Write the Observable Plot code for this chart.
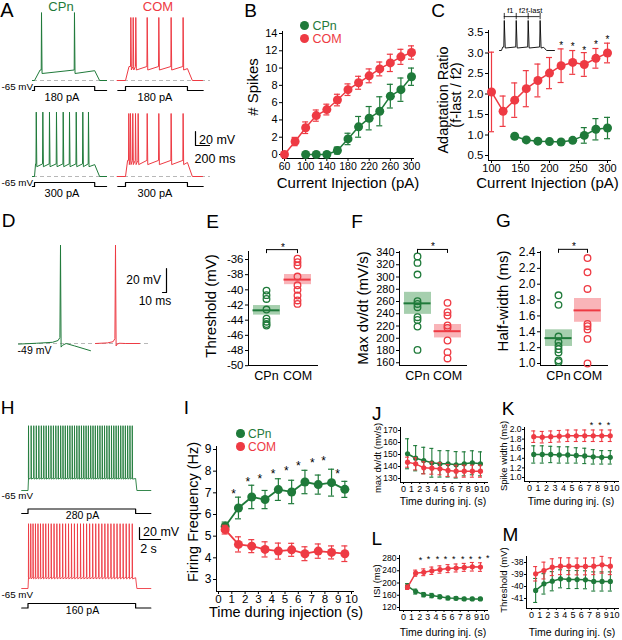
<!DOCTYPE html>
<html><head><meta charset="utf-8">
<script src="https://cdn.jsdelivr.net/npm/d3@7"></script>
<script src="https://cdn.jsdelivr.net/npm/@observablehq/plot@0.6"></script>
<style>
html,body{margin:0;padding:0;background:#fff;}
#fig{position:relative;width:622px;height:640px;overflow:hidden;background:#fff;}
</style></head><body><div id="fig"></div>
<script>
// ===================== DATA =====================
const groups = ["CPn", "COM"];
// Panel A: spike times (ms from step onset) and voltage levels (mV)
const aCPn180 = {spikes: [100, 571], peak: 32, thr: -50, ahp: -55, hold: -51};
const aCOM180 = {spikes: [76, 110, 147, 310, 476, 652, 823], peak: 25, thr: -45, ahp: -50, hold: -48};
const aCPn300 = {spikes: [25, 119, 214, 314, 410, 500, 596, 690, 771], peak: 27, thr: -47, ahp: -51, hold: -48};
const aCOM300 = {spikes: [47, 71, 104, 143, 181, 310, 476, 652, 823], peak: 25, thr: -42, ahp: -48, hold: -45};
const aCurrents = [180, 300];
// Panel B
const bCurrentCOM = [60, 80, 100, 120, 140, 160, 180, 200, 220, 240, 260, 280, 300];
const bSpikesCOM  = [0, 1.5, 3.1, 4.5, 5.2, 6.3, 7.5, 8.3, 9.1, 9.9, 10.6, 11.3, 11.8];
const bErrCOM     = [0, 0.48, 0.67, 0.65, 0.62, 0.67, 0.67, 0.75, 0.8, 0.8, 1.0, 0.87, 0.77];
const bCurrentCPn = [100, 120, 140, 160, 180, 200, 220, 240, 260, 280, 300];
const bSpikesCPn  = [0, 0, 0, 0.46, 1.8, 3.2, 4.2, 5.0, 6.75, 7.5, 9.0];
const bErrCPn     = [0, 0, 0, 0.4, 0.66, 1.2, 1.35, 1.68, 1.37, 1.35, 1.0];
const bTicksX = [60, 100, 140, 180, 220, 260, 300];
const bTicksY = [0, 2, 4, 6, 8, 10, 12, 14];
// Panel C
const cCurrentCOM = [100, 120, 140, 160, 180, 200, 220, 240, 260, 280, 300];
const cRatioCOM   = [2.05, 1.58, 1.85, 2.13, 2.33, 2.51, 2.69, 2.77, 2.72, 2.87, 3.0];
const cErrCOM     = [0.97, 0.37, 0.42, 0.44, 0.4, 0.38, 0.41, 0.29, 0.29, 0.24, 0.24];
const cCurrentCPn = [140, 160, 180, 200, 220, 240, 260, 280, 300];
const cRatioCPn   = [0.97, 0.88, 0.85, 0.84, 0.83, 0.87, 0.99, 1.14, 1.17];
const cErrCPn     = [0.02, 0.05, 0.04, 0.03, 0.03, 0.03, 0.19, 0.26, 0.26];
const cStarCurrent = [220, 240, 260, 280, 300];
const cStarRatio   = [3.25, 3.21, 3.13, 3.27, 3.39];
const cTicksX = [100, 150, 200, 250, 300];
const cTicksY = [0.5, 1.0, 1.5, 2.0, 2.5, 3.0, 3.5];
const cInset = {spikes: [20, 70, 120, 170], peak: 20, thr: -55, ahp: -58, hold: -56};
const cIntervals = ["f1", "f2", "f-last"];
// Panel D: single spike waveforms (ms, mV)
const dGreenT = [-105, -60, -20, -6, -1.5, 0, 1.5, 5, 14, 35, 75];
const dGreenV = [-49.5, -48.8, -48, -46.5, -44, 33, -52, -50.5, -49, -51, -55];
const dRedT = [-50, -20, -6, -1.5, 0, 1.5, 4, 10, 25, 60];
const dRedV = [-49, -48.5, -47.5, -45, 33, -51, -49.5, -48.8, -49, -49];
// Panels E, F, G: individual cells, mean, sem
const eThrCPn = [-40.1, -40.7, -41.2, -42.6, -43.8, -44.2, -44.5, -44.7];
const eThrCOM = [-35.9, -36.35, -36.8, -38.25, -39.4, -40.0, -40.75, -41.4, -41.85];
const eMean = [-42.7, -38.65], eSem = [0.63, 0.67];
const eTicks = [-50, -48, -46, -44, -42, -40, -38, -36];
const fDvdtCPn = [333.5, 323, 304, 260.5, 256, 250.7, 234.4, 230, 219, 181];
const fDvdtCOM = [257.8, 242.6, 237, 220.8, 217, 196.3, 177.3, 167];
const fMean = [257, 211.5], fSem = [18, 11];
const fTicks = [160, 180, 200, 220, 240, 260, 280, 300, 320, 340];
const gHwCPn = [1.86, 1.74, 1.34, 1.27, 1.22, 1.18, 1.14, 1.04, 1.02];
const gHwCOM = [2.33, 2.15, 1.94, 1.5, 1.47, 1.43, 1.31, 1.0];
const gMean = [1.32, 1.67], gSem = [0.105, 0.15];
const gTicks = [1.0, 1.2, 1.4, 1.6, 1.8, 2.0, 2.2, 2.4];
const sigLevel = {E: -34.7, F: 345, G: 2.44};
// Panel H: spike times (s from step onset)
const hSpikesCPn = [0.05,0.30,0.55,0.79,1.03,1.27,1.50,1.73,1.96,2.19,2.42,2.65,2.88,3.11,3.33,3.55,3.77,3.99,4.21,4.43,4.65,4.87,5.09,5.31,5.53,5.75,5.97,6.19,6.41,6.63,6.85,7.07,7.29,7.51,7.73,7.95,8.17,8.39,8.61,8.83,9.05,9.27,9.49,9.71,9.93];
const hSpikesCOM = [0.05,0.26,0.48,0.71,0.95,1.19,1.44,1.69,1.95,2.21,2.48,2.75,3.02,3.30,3.58,3.86,4.14,4.42,4.71,5.00,5.29,5.58,5.87,6.16,6.45,6.74,7.03,7.32,7.61,7.90,8.19,8.48,8.77,9.06,9.35,9.64,9.93];
const hCPn = {peak: 43, thr: -44, ahp: -46, hold: -45};
const hCOM = {peak: 43, thr: -46, ahp: -49, hold: -47};
const hCurrents = [280, 160];
// Panel I
const timeBins = [0.5, 1.5, 2.5, 3.5, 4.5, 5.5, 6.5, 7.5, 8.5, 9.5];
const iFreqCPn = [5.45, 6.3, 6.81, 6.69, 7.15, 7.04, 7.5, 7.38, 7.47, 7.16];
const iErrCPn  = [0.2, 0.5, 0.54, 0.42, 0.5, 0.54, 0.54, 0.44, 0.62, 0.37];
const iFreqCOM = [5.3, 4.62, 4.54, 4.39, 4.31, 4.37, 4.19, 4.31, 4.25, 4.19];
const iErrCOM  = [0.2, 0.35, 0.3, 0.35, 0.37, 0.3, 0.32, 0.33, 0.3, 0.36];
const iStarTime = [1.13, 2.2, 3.1, 4.1, 5.1, 6.0, 7.05, 7.9, 8.95];
const iStarFreq = [7.1, 7.65, 7.8, 8.0, 8.15, 8.4, 8.5, 8.6, 8.0];
const iTicksX = [0, 1, 2, 3, 4, 5, 6, 7, 8, 9, 10];
const iTicksY = [3, 4, 5, 6, 7, 8, 9];
// Panels J-M
const jCPn = [150.6, 146.9, 145, 143.1, 142.2, 142.2, 141.4, 142.2, 143.1, 142.2];
const jErrCPn = [12.5, 10.5, 11, 12, 11, 11, 11, 10, 10, 10];
const jCOM = [143.6, 142.2, 138.9, 138.6, 138.1, 136.7, 136.1, 136.1, 136.1, 136.1];
const jErrCOM = [4.2, 5, 5, 5, 5, 5, 5, 5, 5, 5];
const jTicks = [130, 140, 150, 160, 170];
const kCPn = [1.48, 1.48, 1.48, 1.47, 1.47, 1.46, 1.45, 1.43, 1.42, 1.42];
const kErrCPn = [0.18, 0.18, 0.17, 0.17, 0.17, 0.16, 0.16, 0.15, 0.14, 0.14];
const kCOM = [1.85, 1.84, 1.85, 1.86, 1.87, 1.87, 1.87, 1.87, 1.87, 1.87];
const kErrCOM = [0.12, 0.12, 0.12, 0.12, 0.12, 0.12, 0.12, 0.12, 0.12, 0.12];
const kStarTime = [7.3, 8.3, 9.3], kStarVal = [2.15, 2.15, 2.15];
const kTicks = [1.0, 1.2, 1.4, 1.6, 1.8, 2.0];
const lCPn = [190, 172, 162, 159, 155, 151, 150, 148, 148, 148];
const lErrCPn = [8, 8, 7, 7, 6, 6, 5, 5, 5, 5];
const lCOM = [186, 232, 235, 240, 244, 247, 249, 251, 253, 252];
const lErrCOM = [7, 10, 11, 12, 12, 13, 13, 13, 14, 14];
const lStarTime = [2.1, 3.1, 4.2, 5.2, 6.2, 7.3, 8.3, 9.4, 10.4];
const lStarVal = [284, 286, 286, 286, 286, 286, 286, 287, 288];
const lTicks = [120, 160, 200, 240, 280];
const mCPn = [-40.33, -39.78, -39.56, -39.36, -39.42, -39.42, -39.44, -39.58, -39.58, -39.58];
const mErrCPn = [1.0, 0.85, 0.8, 0.75, 0.75, 0.75, 0.75, 0.8, 0.8, 0.8];
const mCOM = [-38.94, -38.67, -38.39, -38.31, -38.31, -38.33, -38.33, -38.31, -38.19, -38.31];
const mErrCOM = [0.6, 0.7, 0.7, 0.7, 0.7, 0.7, 0.7, 0.7, 0.7, 0.7];
const mTicks = [-41, -40, -39, -38];

// ===================== STYLE / HELPERS =====================
const FONT = "'Liberation Sans', Arial, Helvetica, sans-serif";
const GREEN = "#1f7a3a", RED = "#ee3a43";
const GREEN_LIGHT = "#a6cfae", RED_LIGHT = "#f9b4b8";
const fig = document.getElementById("fig");

function addPlot(frame, opts) {
  const [l, t, r, b] = frame;
  const svg = Plot.plot({
    width: 622, height: 640,
    marginLeft: l, marginTop: t, marginRight: 622 - r, marginBottom: 640 - b,
    style: {position: "absolute", left: "0px", top: "0px", background: "transparent", overflow: "visible", fontFamily: FONT, color: "#000"},
    ...opts,
    marks: opts.marks.filter(Boolean)
  });
  fig.appendChild(svg);
  return svg;
}
function label(s, x, y, o = {}) {
  const d = document.createElement("div");
  d.textContent = s;
  const tx = o.anchor === "start" ? "0%" : o.anchor === "end" ? "-100%" : "-50%";
  d.style.cssText = `position:absolute;left:${x}px;top:${y}px;white-space:nowrap;font-family:${FONT};font-size:${o.size || 12}px;line-height:1;color:${o.color || "#000"};transform:translate(${tx},-50%)${o.rotate ? " rotate(" + o.rotate + "deg)" : ""};`;
  fig.appendChild(d);
}
function legendItem(x, y, color, text, size, r) {
  const dot = document.createElement("div");
  dot.style.cssText = `position:absolute;left:${x - r}px;top:${y - r}px;width:${2 * r}px;height:${2 * r}px;border-radius:50%;background:${color};`;
  fig.appendChild(dot);
  label(text, x + r + 3.5, y, {anchor: "start", size, color});
}
function spikeTrace(p) {
  const pts = [[p.start, p.rest], [p.onset, p.rest], [p.onset + p.rise, p.thr]];
  for (const s of p.spikes) pts.push([s - p.up, p.thr], [s, p.peak], [s + p.down, p.ahp]);
  pts.push([p.offset, p.hold], [p.offset + p.decay, p.rest], [p.end, p.rest]);
  return pts.map(([t, v]) => ({t, v}));
}
function stepPts(start, onset, offset, end, amp) {
  return [{t: start, v: 0}, {t: onset, v: 0}, {t: onset, v: amp}, {t: offset, v: amp}, {t: offset, v: 0}, {t: end, v: 0}];
}
const fmtInt = d => String(d);
const fmt1 = d => d.toFixed(1);
function axes(o) {
  return [
    Plot.frame({anchor: "left", stroke: "#000", strokeWidth: 1}),
    Plot.frame({anchor: "bottom", stroke: "#000", strokeWidth: 1}),
    Plot.axisY({ticks: o.yt, tickFormat: o.yf || fmtInt, tickSize: o.ts ?? 3, tickPadding: o.yp ?? 2, fontSize: o.fy, label: null}),
    o.cat
      ? Plot.axisX({tickSize: 0, tickPadding: 6, fontSize: o.fx, label: null})
      : Plot.axisX({ticks: o.xt, tickFormat: o.xf || fmtInt, tickSize: o.ts ?? 3, tickPadding: o.xp ?? 1, fontSize: o.fx, label: null})
  ];
}
function lineErr(xs, ys, es, color, o) {
  const d = xs.map((x, i) => ({x, y: ys[i], lo: ys[i] - es[i], hi: ys[i] + es[i]}));
  const cap = {x1: "x", x2: "x", insetLeft: -o.cap, insetRight: -o.cap, stroke: color, strokeWidth: o.ew};
  return [
    Plot.ruleX(d, {x: "x", y1: "lo", y2: "hi", stroke: color, strokeWidth: o.ew}),
    Plot.ruleY(d, {...cap, y: "lo"}),
    Plot.ruleY(d, {...cap, y: "hi"}),
    Plot.line(d, {x: "x", y: "y", stroke: color, strokeWidth: o.lw}),
    Plot.dot(d, {x: "x", y: "y", r: o.r, fill: color})
  ];
}
function stars(xs, ys, size) {
  return Plot.text(xs.map((x, i) => ({x, y: ys[i]})), {x: "x", y: "y", text: () => "*", fontSize: size, dy: 0.27 * size, fill: "#000"});
}

// ===================== PANEL A =====================
function aTrace(spec, x0, yRest, start, end, offset, rise, color, withBaseline) {
  const p = {...spec, rest: -65, start, onset: 0, rise, up: 4, down: 8, offset, decay: 70, end};
  addPlot([33, yRest - 75, 210, yRest + 20], {
    x: {domain: [start, end], range: [x0 + start * 0.07, x0 + end * 0.07], axis: null},
    y: {domain: [-65, 40], range: [yRest, yRest - 105 * 0.7], axis: null},
    marks: [
      withBaseline ? Plot.ruleY([-65], {stroke: "#b8b8b8", strokeDasharray: "4,3", strokeWidth: 1.2}) : null,
      Plot.line(spikeTrace(p), {x: "t", y: "v", stroke: color, strokeWidth: 1})
    ]
  });
}
function aStep(amp, x0, yTop, start, end, offset) {
  addPlot([5, yTop - 10, 210, yTop + 10], {
    x: {domain: [start, end], range: [x0 + start * 0.07, x0 + end * 0.07], axis: null},
    y: {domain: [0, amp], range: [yTop + 4, yTop], axis: null},
    marks: [Plot.line(stepPts(start, 0, offset, end, amp), {x: "t", y: "v", stroke: "#000", strokeWidth: 1.2})]
  });
}
aTrace(aCPn180, 34, 80, -30, 1030, 860, 80, GREEN, true);
aTrace(aCOM180, 125, 80, -120, 1100, 885, 50, RED, false);
aTrace(aCPn300, 34, 176, -30, 1030, 860, 15, GREEN, true);
aTrace(aCOM300, 125, 176, -120, 1100, 885, 30, RED, false);
aStep(aCurrents[0], 34, 86, -30, 1030, 860);
aStep(aCurrents[0], 125, 86, -110, 1110, 885);
aStep(aCurrents[1], 34, 182, -30, 1030, 860);
aStep(aCurrents[1], 125, 182, -110, 1110, 885);
addPlot([190, 125, 215, 150], {
  x: {domain: [0, 200], range: [195, 209], axis: null},
  y: {domain: [0, 20], range: [145, 131], axis: null},
  marks: [Plot.line([{t: 0, v: 20}, {t: 0, v: 0}, {t: 200, v: 0}], {x: "t", y: "v", stroke: "#000", strokeWidth: 1.2})]
});

// ===================== PANEL B =====================
addPlot([282, 31, 413, 158], {
  x: {domain: [60, 300], range: [284, 411]},
  y: {domain: [0, 14], range: [154, 33]},
  marks: [
    ...axes({xt: bTicksX, yt: bTicksY, fx: 10.5, fy: 11}),
    ...lineErr(bCurrentCOM, bSpikesCOM, bErrCOM, RED, {r: 4.5, cap: 3, ew: 1.2, lw: 1.5}),
    ...lineErr(bCurrentCPn, bSpikesCPn, bErrCPn, GREEN, {r: 4.5, cap: 3, ew: 1.2, lw: 1.5})
  ]
});

// ===================== PANEL C =====================
addPlot([488, 30, 610, 160], {
  x: {domain: [100, 300], range: [491, 607]},
  y: {domain: [0.5, 3.5], range: [155, 32]},
  marks: [
    ...axes({xt: cTicksX, yt: cTicksY, yf: fmt1, fx: 11, fy: 11.5}),
    ...lineErr(cCurrentCOM, cRatioCOM, cErrCOM, RED, {r: 4.5, cap: 3, ew: 1.2, lw: 1.5}),
    ...lineErr(cCurrentCPn, cRatioCPn, cErrCPn, GREEN, {r: 4.5, cap: 3, ew: 1.2, lw: 1.5}),
    stars(cStarCurrent, cStarRatio, 10)
  ]
});
{
  const p = {...cInset, rest: -65, start: 0, onset: 8, rise: 6, up: 2, down: 4, offset: 185, decay: 12, end: 230};
  const mids = cIntervals.map((s, i) => ({s, t: (cInset.spikes[i] + cInset.spikes[i + 1]) / 2, v: 31}));
  addPlot([499, 5, 554, 55], {
    x: {domain: [0, 230], range: [499, 499 + 230 * 0.239], axis: null},
    y: {domain: [-65, 40], range: [50, 50 - 105 * 0.353], axis: null},
    marks: [
      Plot.line(spikeTrace(p), {x: "t", y: "v", stroke: "#000", strokeWidth: 0.9}),
      Plot.ruleY([{a: cInset.spikes[0], b: cInset.spikes[3], v: 31}], {x1: "a", x2: "b", y: "v", stroke: "#000", strokeWidth: 0.8}),
      Plot.ruleX(cInset.spikes, {x: d => d, y1: 22, y2: 40, stroke: "#000", strokeWidth: 0.8}),
      Plot.text(mids, {x: "t", y: "v", text: "s", dy: -6, fontSize: 7.5, fill: "#000"})
    ]
  });
}

// ===================== PANEL D =====================
addPlot([18, 230, 148, 360], {
  x: {domain: [-105, 75], range: [60 - 105 * 0.4, 60 + 75 * 0.4], axis: null},
  y: {domain: [-60, 40], range: [343 + 11 * 1.2, 343 - 89 * 1.2], axis: null},
  marks: [
    Plot.ruleY([-49], {stroke: "#b8b8b8", strokeDasharray: "4,3", strokeWidth: 1.2}),
    Plot.line(dGreenT.map((t, i) => ({t, v: dGreenV[i]})), {x: "t", y: "v", stroke: GREEN, strokeWidth: 1})
  ]
});
addPlot([18, 230, 148, 360], {
  x: {domain: [-50, 60], range: [115 - 50 * 0.4, 115 + 60 * 0.4], axis: null},
  y: {domain: [-60, 40], range: [343 + 11 * 1.2, 343 - 89 * 1.2], axis: null},
  marks: [Plot.line(dRedT.map((t, i) => ({t, v: dRedV[i]})), {x: "t", y: "v", stroke: RED, strokeWidth: 1})]
});
addPlot([155, 260, 175, 300], {
  x: {domain: [0, 10], range: [162, 166], axis: null},
  y: {domain: [0, 20], range: [292, 268], axis: null},
  marks: [Plot.line([{t: 10, v: 20}, {t: 10, v: 0}, {t: 0, v: 0}], {x: "t", y: "v", stroke: "#000", strokeWidth: 1.2})]
});

// ===================== PANELS E, F, G =====================
function catPanel(frame, yDom, yRange, xRange, ticks, yf, fy, cpn, com, mean, sem, sig) {
  const pts = [...cpn.map(v => ({g: "CPn", v})), ...com.map(v => ({g: "COM", v}))];
  const stats = groups.map((g, i) => ({g, mean: mean[i], lo: mean[i] - sem[i], hi: mean[i] + sem[i]}));
  const marks = [...axes({cat: true, yt: ticks, yf, fx: 12.5, fy, ts: 3, yp: 2})];
  groups.forEach((g, i) => {
    const col = i === 0 ? GREEN : RED, light = i === 0 ? GREEN_LIGHT : RED_LIGHT;
    marks.push(Plot.ruleX(stats.filter(d => d.g === g), {x: "g", y1: "lo", y2: "hi", stroke: light, strokeWidth: 27}));
    marks.push(Plot.dot(pts.filter(d => d.g === g), {x: "g", y: "v", r: 3.3, stroke: col, strokeWidth: 1.3}));
    marks.push(Plot.ruleY(stats.filter(d => d.g === g), {x1: "g", x2: "g", y: "mean", insetLeft: -13.5, insetRight: -13.5, stroke: col, strokeWidth: 2}));
  });
  marks.push(Plot.ruleY([{a: "CPn", b: "COM", y: sig}], {x1: "a", x2: "b", y: "y", stroke: "#000", strokeWidth: 1}));
  marks.push(Plot.ruleX(groups.map(g => ({g, y: sig})), {x: "g", y1: "y", y2: "y", insetBottom: -4, stroke: "#000", strokeWidth: 1}));
  marks.push(Plot.text([{y: sig}], {y: "y", text: () => "*", fontSize: 10, dy: -5 + 2.7, fill: "#000"}));
  addPlot(frame, {
    x: {type: "point", domain: groups, range: xRange, padding: 0},
    y: {domain: yDom, range: yRange},
    marks
  });
}
catPanel([248, 251, 317, 365], [-50, -36], [365.2, 259], [266, 297], eTicks, fmtInt, 11.5, eThrCPn, eThrCOM, eMean, eSem, sigLevel.E);
catPanel([399, 251, 466, 365], [160, 340], [362.25, 252], [417, 447], fTicks, fmtInt, 11, fDvdtCPn, fDvdtCOM, fMean, fSem, sigLevel.F);
catPanel([540, 251, 607, 365], [1.0, 2.4], [363, 252], [558, 587], gTicks, fmt1, 12, gHwCPn, gHwCOM, gMean, gSem, sigLevel.G);

// ===================== PANEL H =====================
function hTrace(spikes, spec, yRest, color) {
  const p = {...spec, spikes, rest: -65, start: -0.6, onset: 0, rise: 0.05, up: 0.012, down: 0.03, offset: 10.25, decay: 0.12, end: 11.7};
  addPlot([21, yRest - 80, 152, yRest + 10], {
    x: {domain: [-0.6, 11.7], range: [27.5 - 0.6 * 10.5, 27.5 + 11.7 * 10.5], axis: null},
    y: {domain: [-65, 45], range: [yRest, yRest - 110 * 0.6], axis: null},
    marks: [Plot.line(spikeTrace(p), {x: "t", y: "v", stroke: color, strokeWidth: 0.9})]
  });
}
function hStep(amp, yTop) {
  addPlot([21, yTop - 10, 152, yTop + 10], {
    x: {domain: [-0.6, 11.7], range: [27.5 - 0.6 * 10.5, 27.5 + 11.7 * 10.5], axis: null},
    y: {domain: [0, amp], range: [yTop + 4.5, yTop], axis: null},
    marks: [Plot.line(stepPts(-0.6, 0, 10.25, 11.7, amp), {x: "t", y: "v", stroke: "#000", strokeWidth: 1.2})]
  });
}
hTrace(hSpikesCPn, hCPn, 490, GREEN);
hTrace(hSpikesCOM, hCOM, 588, RED);
hStep(hCurrents[0], 508.5);
hStep(hCurrents[1], 603);
addPlot([130, 520, 170, 545], {
  x: {domain: [0, 2], range: [139, 160], axis: null},
  y: {domain: [0, 20], range: [539, 527], axis: null},
  marks: [Plot.line([{t: 0, v: 20}, {t: 0, v: 0}, {t: 2, v: 0}], {x: "t", y: "v", stroke: "#000", strokeWidth: 1.2})]
});

// ===================== PANEL I =====================
addPlot([216, 446, 353, 591], {
  x: {domain: [0, 10], range: [218, 351]},
  y: {domain: [3, 9], range: [579, 449]},
  marks: [
    ...axes({xt: iTicksX, yt: iTicksY, fx: 11.5, fy: 12, xp: 0}),
    ...lineErr(timeBins, iFreqCPn, iErrCPn, GREEN, {r: 4.5, cap: 3, ew: 1.2, lw: 1.8}),
    ...lineErr(timeBins, iFreqCOM, iErrCOM, RED, {r: 4.5, cap: 3, ew: 1.2, lw: 1.8}),
    stars(iStarTime, iStarFreq, 12)
  ]
});

// ===================== PANELS J-M =====================
function smallPanel(frame, xRange, yDom, yRange, ticks, yf, cpn, ecpn, com, ecom, st) {
  addPlot(frame, {
    x: {domain: [0, 10], range: xRange},
    y: {domain: yDom, range: yRange},
    marks: [
      ...axes({xt: iTicksX, yt: ticks, yf, fx: 9, fy: 8.5, ts: 2, xp: 1.5, yp: 1}),
      ...lineErr(timeBins, cpn, ecpn, GREEN, {r: 2.6, cap: 2, ew: 1.1, lw: 1.5}),
      ...lineErr(timeBins, com, ecom, RED, {r: 2.6, cap: 2, ew: 1.1, lw: 1.5}),
      st ? stars(st[0], st[1], 9) : null
    ]
  });
}
smallPanel([400, 427, 487, 482], [403, 484], [130, 170], [478, 430], jTicks, fmtInt, jCPn, jErrCPn, jCOM, jErrCOM, null);
smallPanel([524, 427, 618, 481], [529, 614], [1, 2], [477, 429], kTicks, fmt1, kCPn, kErrCPn, kCOM, kErrCOM, [kStarTime, kStarVal]);
smallPanel([399, 555, 487, 610], [403, 484], [120, 280], [607, 558], lTicks, fmtInt, lCPn, lErrCPn, lCOM, lErrCOM, [lStarTime, lStarVal]);
smallPanel([526, 556, 618, 608], [531, 614], [-41, -38], [598, 562], mTicks, fmtInt, mCPn, mErrCPn, mCOM, mErrCOM, null);

// ===================== TEXT =====================
const letters = [["A", 7, 10, 20], ["B", 250.5, 10, 19], ["C", 438, 10, 19], ["D", 8.5, 220, 19], ["E", 212.5, 221, 19],
  ["F", 357, 221, 19], ["G", 503.5, 220, 19], ["H", 7.5, 406.5, 19], ["I", 186.5, 406.5, 19], ["J", 376.7, 412.5, 19],
  ["K", 508, 408, 19], ["L", 376.7, 538, 19], ["M", 510.5, 534, 19]];
for (const [s, x, y, sz] of letters) label(s, x, y, {size: sz});
// A
label("CPn", 61, 6, {size: 13, color: GREEN});
label("COM", 158, 6, {size: 13, color: RED});
label("-65 mV", 33, 87, {size: 9.8, anchor: "end"});
label("-65 mV", 33, 183, {size: 9.8, anchor: "end"});
label(aCurrents[0] + " pA", 62, 97, {size: 11});
label(aCurrents[0] + " pA", 155, 97, {size: 11});
label(aCurrents[1] + " pA", 62, 193, {size: 11});
label(aCurrents[1] + " pA", 155, 193, {size: 11});
label("20 mV", 199, 140, {size: 12.5, anchor: "start"});
label("200 ms", 215, 159, {size: 12.5});
// B
label("Current Injection (pA)", 348, 182, {size: 15});
label("# Spikes", 252, 87, {size: 15, rotate: -90});
legendItem(304.5, 25.5, GREEN, "CPn", 12.5, 4.5);
legendItem(304.5, 38.8, RED, "COM", 12.5, 4.5);
// C
label("Current Injection (pA)", 547.5, 182, {size: 15});
label("Adaptation Ratio", 443, 100, {size: 14.5, rotate: -90});
label("(f-last / f2)", 456, 95, {size: 14.5, rotate: -90});
// D
label("20 mV", 161, 280, {size: 12, anchor: "end"});
label("10 ms", 155, 301, {size: 12});
label("-49 mV", 34.5, 350, {size: 10.5});
// E F G
label("Threshold (mV)", 210, 306, {size: 15, rotate: -90});
label("Max dv/dt (mV/s)", 362, 308, {size: 15, rotate: -90});
label("Half-width (ms)", 502, 301, {size: 15, rotate: -90});
// H
label("-65 mV", 33, 496, {size: 9.8, anchor: "end"});
label("-65 mV", 33, 595, {size: 9.8, anchor: "end"});
label(hCurrents[0] + " pA", 82.5, 515, {size: 10.5});
label(hCurrents[1] + " pA", 82.5, 610, {size: 10.5});
label("20 mV", 143, 532, {size: 12.5, anchor: "start"});
label("2 s", 148.5, 549, {size: 12.5});
// I
label("Time during injection (s)", 286, 612, {size: 14.5});
label("Firing Frequency (Hz)", 193, 512, {size: 14.5, rotate: -90});
legendItem(240.3, 433.5, GREEN, "CPn", 12, 4.3);
legendItem(240.3, 446.5, RED, "COM", 12, 4.3);
// J-M
label("Time during inj. (s)", 443, 501, {size: 10.5});
label("Time during inj. (s)", 571, 501, {size: 10.5});
label("Time during inj. (s)", 443, 632, {size: 10.5});
label("Time during inj. (s)", 572, 632, {size: 10.5});
label("max dv/dt (mv/s)", 378, 458, {size: 9.5, rotate: -90});
label("Spike width (ms)", 504, 456, {size: 9.5, rotate: -90});
label("ISI (ms)", 377, 581, {size: 9.5, rotate: -90});
label("Threshold (mV)", 504, 580, {size: 9.5, rotate: -90});
</script></body></html>
